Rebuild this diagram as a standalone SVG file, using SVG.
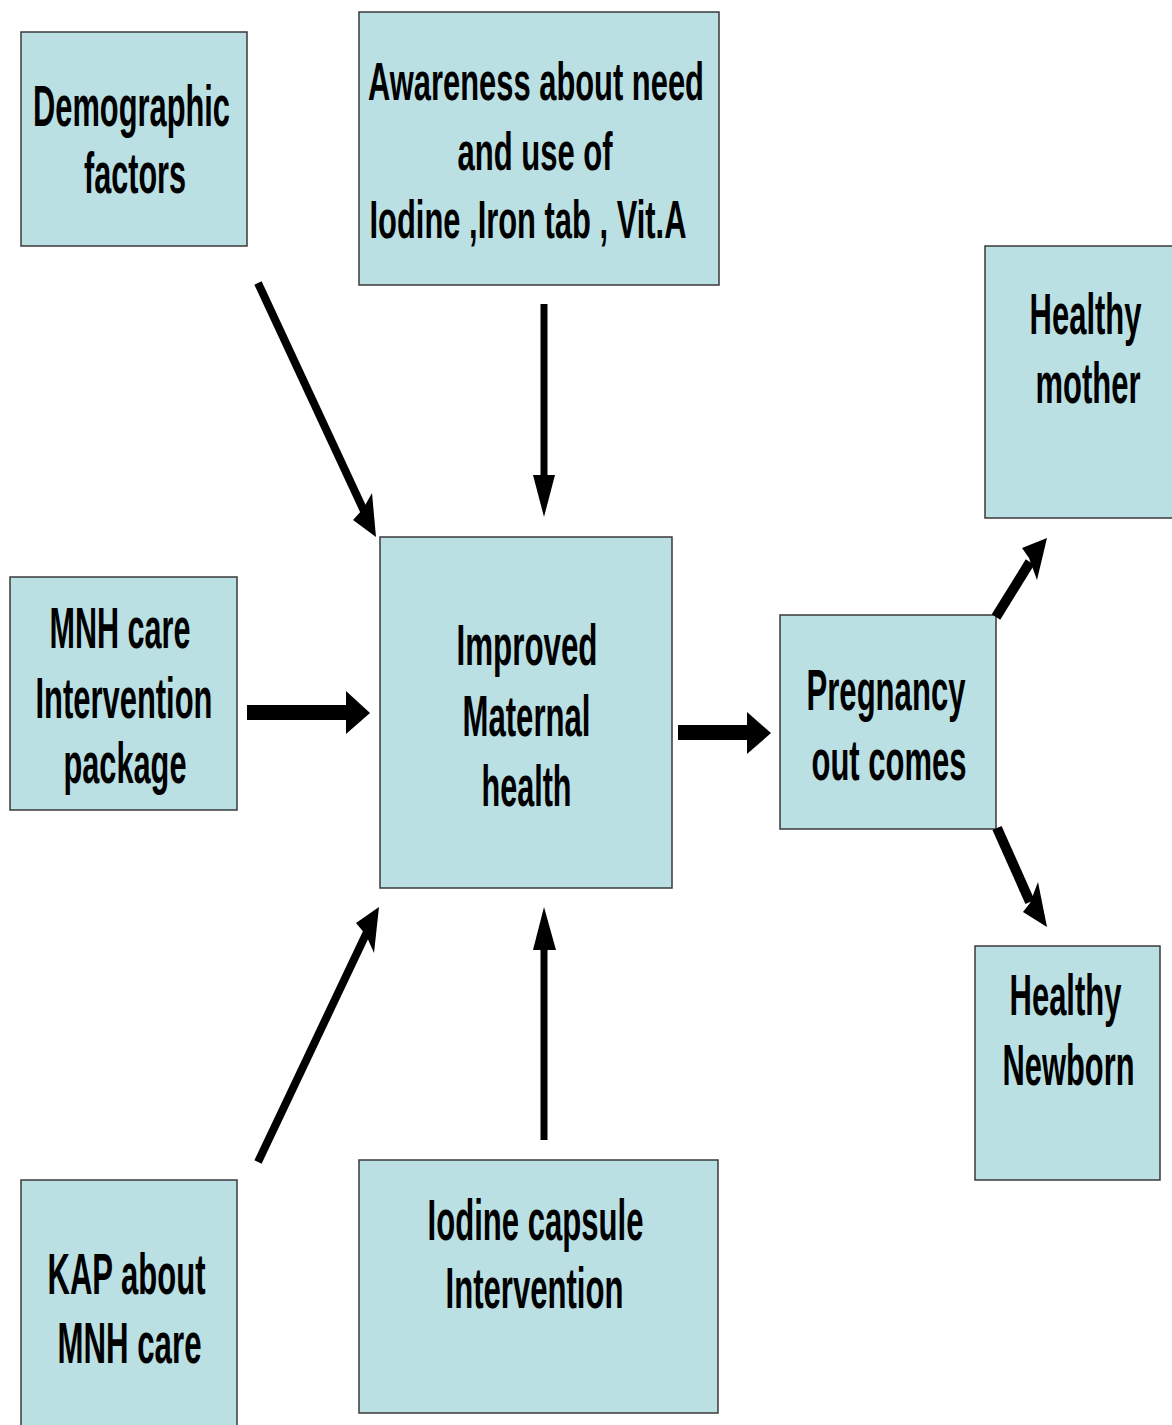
<svg xmlns="http://www.w3.org/2000/svg" width="1172" height="1425" viewBox="0 0 1172 1425">
<style>
.box{fill:#BBE0E3;stroke:#3a3a3a;stroke-width:1.5}
.t{font-family:"Liberation Sans",Arial,sans-serif;font-weight:bold;font-size:58px;fill:#000;text-anchor:middle}
.s{font-size:54px}
.ln{stroke:#000;fill:none;stroke-linecap:butt}
.hd{fill:#000;stroke:none}
</style>
<rect width="1172" height="1425" fill="#fff"/>
<g id="demographic">
<rect class="box" x="21" y="32" width="226" height="214"/>
<text class="t" x="131.5" y="126" transform="matrix(0.55,0,0,1,59.175,0)" textLength="358.2" lengthAdjust="spacingAndGlyphs">Demographic</text>
<text class="t" x="135" y="193" transform="matrix(0.55,0,0,1,60.75,0)" textLength="185.5" lengthAdjust="spacingAndGlyphs">factors</text>
</g>
<g id="awareness">
<rect class="box" x="359" y="12" width="360" height="273"/>
<text class="t s" x="536" y="100" transform="matrix(0.55,0,0,1,241.2,0)" textLength="610.9" lengthAdjust="spacingAndGlyphs">Awareness about need</text>
<text class="t s" x="535" y="170" transform="matrix(0.55,0,0,1,240.75,0)" textLength="281.8" lengthAdjust="spacingAndGlyphs">and use of</text>
<text class="t s" x="528" y="238" transform="matrix(0.55,0,0,1,237.6,0)" textLength="576.4" lengthAdjust="spacingAndGlyphs">Iodine ,Iron tab , Vit.A</text>
</g>
<g id="healthy-mother">
<rect class="box" x="985" y="246" width="190" height="272"/>
<text class="t" x="1085.5" y="334" transform="matrix(0.55,0,0,1,488.475,0)" textLength="203.6" lengthAdjust="spacingAndGlyphs">Healthy</text>
<text class="t" x="1088" y="403" transform="matrix(0.55,0,0,1,489.6,0)" textLength="190.9" lengthAdjust="spacingAndGlyphs">mother</text>
</g>
<g id="mnh-care">
<rect class="box" x="10" y="577" width="227" height="233"/>
<text class="t" x="120" y="648" transform="matrix(0.55,0,0,1,54,0)" textLength="256.4" lengthAdjust="spacingAndGlyphs">MNH care</text>
<text class="t" x="124" y="718" transform="matrix(0.55,0,0,1,55.8,0)" textLength="321.8" lengthAdjust="spacingAndGlyphs">Intervention</text>
<text class="t" x="125" y="783" transform="matrix(0.55,0,0,1,56.25,0)" textLength="223.6" lengthAdjust="spacingAndGlyphs">package</text>
</g>
<g id="improved">
<rect class="box" x="380" y="537" width="292" height="351"/>
<text class="t" x="527" y="665" transform="matrix(0.55,0,0,1,237.15,0)" textLength="256.4" lengthAdjust="spacingAndGlyphs">Improved</text>
<text class="t" x="526.5" y="736" transform="matrix(0.55,0,0,1,236.925,0)" textLength="232.7" lengthAdjust="spacingAndGlyphs">Maternal</text>
<text class="t" x="526.5" y="806" transform="matrix(0.55,0,0,1,236.925,0)" textLength="163.6" lengthAdjust="spacingAndGlyphs">health</text>
</g>
<g id="pregnancy">
<rect class="box" x="780" y="615" width="216" height="214"/>
<text class="t" x="886" y="710" transform="matrix(0.55,0,0,1,398.7,0)" textLength="289.1" lengthAdjust="spacingAndGlyphs">Pregnancy</text>
<text class="t" x="889" y="780" transform="matrix(0.55,0,0,1,400.05,0)" textLength="281.8" lengthAdjust="spacingAndGlyphs">out comes</text>
</g>
<g id="healthy-newborn">
<rect class="box" x="975" y="946" width="185" height="234"/>
<text class="t" x="1065.5" y="1015" transform="matrix(0.55,0,0,1,479.475,0)" textLength="203.6" lengthAdjust="spacingAndGlyphs">Healthy</text>
<text class="t" x="1068.5" y="1085" transform="matrix(0.55,0,0,1,480.825,0)" textLength="240" lengthAdjust="spacingAndGlyphs">Newborn</text>
</g>
<g id="kap">
<rect class="box" x="21" y="1180" width="216" height="260"/>
<text class="t" x="126.5" y="1294" transform="matrix(0.55,0,0,1,56.925,0)" textLength="287.3" lengthAdjust="spacingAndGlyphs">KAP about</text>
<text class="t" x="129.5" y="1363" transform="matrix(0.55,0,0,1,58.275,0)" textLength="261.8" lengthAdjust="spacingAndGlyphs">MNH care</text>
</g>
<g id="iodine-capsule">
<rect class="box" x="359" y="1160" width="359" height="253"/>
<text class="t" x="535.5" y="1240" transform="matrix(0.55,0,0,1,240.975,0)" textLength="392.7" lengthAdjust="spacingAndGlyphs">Iodine capsule</text>
<text class="t" x="534.5" y="1308" transform="matrix(0.55,0,0,1,240.525,0)" textLength="323.6" lengthAdjust="spacingAndGlyphs">Intervention</text>
</g>
<g id="connectors">
<line class="ln" x1="258" y1="283" x2="364" y2="511" stroke-width="8"/>
<polygon class="hd" points="376,537 353,520 363,509 372,493"/>
<line class="ln" x1="544" y1="304" x2="544" y2="477" stroke-width="7"/>
<polygon class="hd" points="533,475 555,475 544,517"/>
<rect class="hd" x="247" y="705" width="100" height="15"/>
<polygon class="hd" points="346,691 370,713 346,734"/>
<rect class="hd" x="678" y="725" width="70" height="15"/>
<polygon class="hd" points="747,712 771,733 747,754"/>
<line class="ln" x1="258" y1="1162" x2="367" y2="932" stroke-width="8"/>
<polygon class="hd" points="379,907 356,923 366,935 374,953"/>
<line class="ln" x1="544" y1="1140" x2="544" y2="948" stroke-width="7"/>
<polygon class="hd" points="533,950 556,950 544,907"/>
<line class="ln" x1="996" y1="617" x2="1030" y2="562" stroke-width="10"/>
<polygon class="hd" points="1047,538 1022,548 1029,558 1037,580"/>
<line class="ln" x1="997" y1="828" x2="1030" y2="902" stroke-width="10"/>
<polygon class="hd" points="1047,927 1023,912 1030,903 1038,882"/>
</g>
</svg>
